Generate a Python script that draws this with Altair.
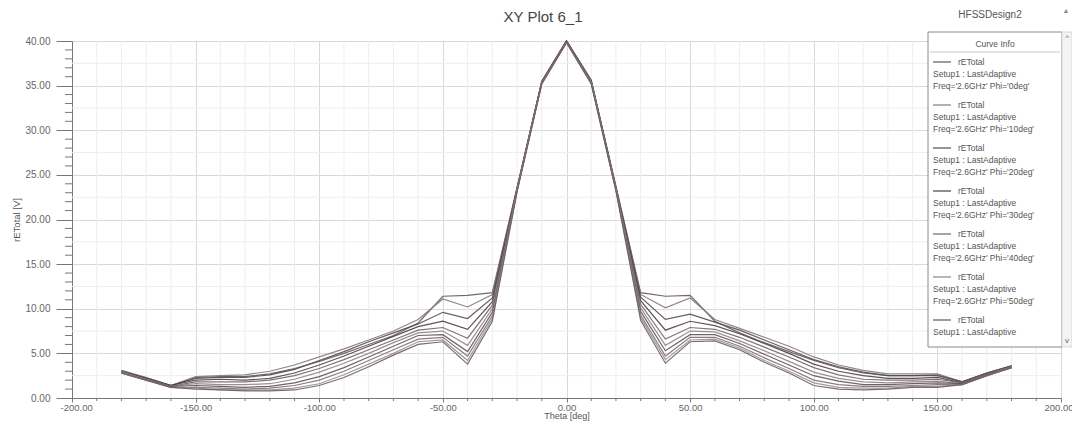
import altair as alt
import pandas as pd

# ---------------- data ----------------
theta = list(range(-180, 181, 10))
phis = ["0deg", "10deg", "20deg", "30deg", "40deg", "50deg", "60deg", "70deg", "80deg", "90deg"]

r_phi0 = [3.1, 2.3, 1.4, 2.3, 2.4, 2.4, 2.7, 3.3, 4.1, 5.0, 6.0, 7.0, 8.4, 11.4, 11.5, 11.8, 23.6, 35.5,
          40.0,
          35.6, 23.7, 11.8, 11.4, 11.5, 8.6, 7.3, 6.2, 5.2, 4.2, 3.4, 2.8, 2.5, 2.5, 2.6, 1.8, 2.8, 3.6]
r_phi10 = [3.0, 2.3, 1.4, 2.4, 2.5, 2.6, 3.0, 3.7, 4.6, 5.5, 6.5, 7.5, 8.8, 11.1, 10.2, 11.6, 23.5, 35.5,
           40.0,
           35.6, 23.6, 11.6, 10.1, 11.2, 8.8, 7.8, 6.8, 5.8, 4.6, 3.7, 3.1, 2.7, 2.7, 2.7, 1.8, 2.8, 3.6]
r_phi20 = [3.0, 2.2, 1.4, 2.2, 2.3, 2.3, 2.6, 3.2, 4.2, 5.2, 6.3, 7.3, 8.3, 9.6, 8.9, 11.2, 23.5, 35.4,
           40.0,
           35.5, 23.6, 11.3, 8.8, 9.4, 8.5, 7.6, 6.5, 5.4, 4.3, 3.5, 2.9, 2.5, 2.5, 2.5, 1.8, 2.8, 3.6]
r_phi30 = [2.9, 2.2, 1.4, 2.0, 2.1, 2.0, 2.2, 2.8, 3.7, 4.7, 5.8, 6.9, 8.0, 8.6, 7.7, 10.8, 23.4, 35.4,
           40.0,
           35.5, 23.5, 10.9, 7.6, 8.6, 8.1, 7.2, 6.1, 5.0, 3.8, 3.0, 2.5, 2.2, 2.2, 2.3, 1.7, 2.7, 3.5]
r_phi40 = [2.9, 2.1, 1.3, 1.8, 1.8, 1.8, 2.0, 2.5, 3.3, 4.3, 5.4, 6.5, 7.6, 7.9, 6.7, 10.4, 23.4, 35.4,
           39.9,
           35.4, 23.5, 10.5, 6.6, 7.9, 7.7, 6.8, 5.7, 4.6, 3.4, 2.6, 2.1, 2.0, 2.0, 2.1, 1.7, 2.7, 3.5]
r_phi50 = [2.9, 2.1, 1.3, 1.6, 1.5, 1.5, 1.6, 2.1, 2.9, 3.9, 5.0, 6.2, 7.3, 7.5, 5.9, 10.0, 23.3, 35.3,
           39.9,
           35.4, 23.4, 10.1, 5.9, 7.5, 7.4, 6.4, 5.3, 4.1, 2.9, 2.2, 1.8, 1.7, 1.8, 1.9, 1.6, 2.6, 3.5]
r_phi60 = [2.8, 2.0, 1.3, 1.4, 1.3, 1.2, 1.3, 1.7, 2.4, 3.4, 4.6, 5.8, 7.0, 7.1, 5.2, 9.6, 23.3, 35.3,
           39.9,
           35.4, 23.4, 9.7, 5.3, 7.1, 7.1, 6.1, 4.9, 3.7, 2.5, 1.9, 1.5, 1.5, 1.6, 1.7, 1.6, 2.6, 3.4]
r_phi70 = [2.8, 2.0, 1.2, 1.2, 1.1, 1.0, 1.1, 1.4, 2.0, 3.0, 4.2, 5.4, 6.6, 6.8, 4.7, 9.2, 23.2, 35.3,
           39.9,
           35.3, 23.3, 9.3, 4.7, 6.8, 6.8, 5.8, 4.5, 3.3, 2.0, 1.5, 1.3, 1.3, 1.4, 1.5, 1.5, 2.5, 3.4]
r_phi80 = [2.8, 2.0, 1.2, 1.1, 0.9, 0.9, 0.9, 1.1, 1.6, 2.6, 3.8, 5.0, 6.3, 6.5, 4.2, 8.9, 23.2, 35.2,
           39.8,
           35.3, 23.3, 9.0, 4.3, 6.5, 6.6, 5.6, 4.2, 3.0, 1.7, 1.2, 1.1, 1.1, 1.3, 1.3, 1.5, 2.5, 3.4]
r_phi90 = [2.8, 2.0, 1.2, 1.0, 0.9, 0.8, 0.8, 0.9, 1.4, 2.3, 3.5, 4.8, 6.0, 6.3, 3.8, 8.6, 23.1, 35.2,
           39.8,
           35.2, 23.2, 8.7, 3.9, 6.3, 6.4, 5.4, 4.0, 2.8, 1.4, 1.0, 0.9, 1.0, 1.2, 1.2, 1.5, 2.5, 3.4]

curves = [r_phi0, r_phi10, r_phi20, r_phi30, r_phi40, r_phi50, r_phi60, r_phi70, r_phi80, r_phi90]
curve_colors = ["#65565f", "#85777f", "#574a52", "#4a3f46", "#73646c",
                "#908289", "#5f5259", "#7d6f77", "#9a8e94", "#6a5c64"]

x_major = [-200, -150, -100, -50, 0, 50, 100, 150, 200]
x_minor = [v for v in range(-200, 201, 10) if v % 50 != 0]
y_major = [0, 5, 10, 15, 20, 25, 30, 35, 40]
y_minor = [v for v in range(0, 41) if v % 5 != 0]
y_minor_grid = [2.5, 7.5, 12.5, 17.5, 22.5, 27.5, 32.5, 37.5]

legend_phis = ["0deg", "10deg", "20deg", "30deg", "40deg", "50deg"]
partial_phi = "60deg"
title_text = "XY Plot 6_1"
design_text = "HFSSDesign2"
x_title = "Theta [deg]"
y_title = "rETotal [V]"

rows = []
for p, vals in zip(phis, curves):
    for t, v in zip(theta, vals):
        rows.append({"theta": t, "phi": p, "rE": v})
df = pd.DataFrame(rows)

W, H = 989, 357
FONT = "Liberation Sans"
TXT = "#555555"

color_scale = alt.Scale(domain=phis, range=curve_colors)
xs = alt.Scale(domain=[-200, 200], nice=False, zero=False)
ys = alt.Scale(domain=[0, 40], nice=False, zero=False)

label_expr = "replace(format(datum.value, '.2f'), '\u2212', '-')"

# minor grid
gx = alt.Chart(pd.DataFrame({"v": x_minor})).mark_rule(color="#eeeeee", strokeWidth=1).encode(
    x=alt.X("v:Q", scale=xs))
gy = alt.Chart(pd.DataFrame({"v": y_minor_grid})).mark_rule(color="#eeeeee", strokeWidth=1).encode(
    y=alt.Y("v:Q", scale=ys))

lines = alt.Chart(df).mark_line(strokeWidth=1.2, opacity=0.9).encode(
    x=alt.X("theta:Q", scale=xs,
            axis=alt.Axis(values=x_major, labelExpr=label_expr, title=x_title,
                          tickSize=4, labelPadding=0, titlePadding=0, grid=True,
                          labelFlush=True, labelFlushOffset=12,
                          gridColor="#d9d9d9", domainColor="#777777", tickColor="#777777",
                          labelColor="#666666", labelFontSize=9.5, titleFontSize=9,
                          titleFontWeight="normal", titleColor="#555555",
                          labelFont=FONT, titleFont=FONT)),
    y=alt.Y("rE:Q", scale=ys,
            axis=alt.Axis(values=y_major, labelExpr=label_expr, title=y_title,
                          tickSize=16, labelPadding=6, titlePadding=3, grid=True,
                          gridColor="#d9d9d9", domainColor="#777777", tickColor="#777777",
                          labelColor="#666666", labelFontSize=10, titleFontSize=9.5,
                          titleFontWeight="normal", titleColor="#555555",
                          labelFont=FONT, titleFont=FONT)),
    color=alt.Color("phi:N", scale=color_scale, legend=None),
    detail="phi:N",
)

# minor ticks
tx = alt.Chart(pd.DataFrame({"v": x_minor})).mark_rule(color="#777777").encode(
    x=alt.X("v:Q", scale=xs), y=alt.value(H), y2=alt.value(H + 3))
ty = alt.Chart(pd.DataFrame({"v": y_minor})).mark_rule(color="#777777").encode(
    y=alt.Y("v:Q", scale=ys), x=alt.value(-7), x2=alt.value(0))

# titles
title = alt.Chart(pd.DataFrame({"t": [title_text]})).mark_text(
    font=FONT, fontSize=15, color="#444444", align="center", baseline="middle").encode(
    text="t:N", x=alt.value(471), y=alt.value(-24))
design = alt.Chart(pd.DataFrame({"t": [design_text]})).mark_text(
    font=FONT, fontSize=10, color="#555555", align="center", baseline="middle").encode(
    text="t:N", x=alt.value(918), y=alt.value(-26))
icon = alt.Chart(pd.DataFrame({"t": ["\u25b2"]})).mark_text(
    font=FONT, fontSize=7, color="#888888", align="center", baseline="middle").encode(
    text="t:N", x=alt.value(994), y=alt.value(-30))

# legend box
box = alt.Chart(pd.DataFrame({"a": [0]})).mark_rect(fill="white", stroke="#8a8a8a", strokeWidth=1).encode(
    x=alt.value(856), x2=alt.value(990), y=alt.value(-9), y2=alt.value(306))
scroll = alt.Chart(pd.DataFrame({"a": [0]})).mark_rect(fill="#f3f3f3", stroke="#d0d0d0", strokeWidth=0.8).encode(
    x=alt.value(990), x2=alt.value(1000), y=alt.value(-9), y2=alt.value(306))
arrows = alt.Chart(pd.DataFrame({"t": ["^", "v"], "k": [0, 1]})).transform_calculate(
    py="datum.k == 0 ? -3 : 300").mark_text(
    font=FONT, fontSize=8, color="#666666", align="center", baseline="middle").encode(
    text="t:N", x=alt.value(995), y=alt.Y("py:Q", scale=None))
head = alt.Chart(pd.DataFrame({"t": ["Curve Info"]})).mark_text(
    font=FONT, fontSize=8.5, color=TXT, align="center", baseline="middle").encode(
    text="t:N", x=alt.value(923), y=alt.value(3))
head_line = alt.Chart(pd.DataFrame({"a": [0]})).mark_rule(color="#c8c8c8").encode(
    x=alt.value(858), x2=alt.value(988), y=alt.value(11))

leg = pd.DataFrame({"i": list(range(len(legend_phis))) + [len(legend_phis)],
                    "phi": legend_phis + [partial_phi]})
leg["name"] = "rETotal"
leg["setup"] = "Setup1 : LastAdaptive"
leg["freq"] = ["Freq='2.6GHz' Phi='" + p + "'" for p in leg["phi"]]
leg["full"] = [1] * len(legend_phis) + [0]

base = alt.Chart(leg).transform_calculate(
    y1="21 + 43 * datum.i", y2="33 + 43 * datum.i", y3="45 + 43 * datum.i")

samples = base.mark_rule(strokeWidth=1.2).encode(
    x=alt.value(861), x2=alt.value(879), y=alt.Y("y1:Q", scale=None),
    color=alt.Color("phi:N", scale=color_scale, legend=None))
names = base.mark_text(font=FONT, fontSize=8.5, color=TXT, align="left", baseline="middle").encode(
    text="name:N", x=alt.value(886), y=alt.Y("y1:Q", scale=None))
setups = base.mark_text(font=FONT, fontSize=8.5, color=TXT, align="left", baseline="middle").encode(
    text="setup:N", x=alt.value(861), y=alt.Y("y2:Q", scale=None))
freqs = base.transform_filter("datum.full == 1").mark_text(
    font=FONT, fontSize=8.5, color=TXT, align="left", baseline="middle").encode(
    text="freq:N", x=alt.value(861), y=alt.Y("y3:Q", scale=None))

chart = alt.layer(
    gx, gy, lines, tx, ty, title, design, icon,
    box, scroll, arrows, head, head_line, samples, names, setups, freqs
).properties(
    width=W, height=H,
    padding={"left": 64, "top": 33, "right": 11, "bottom": 25},
    autosize=alt.AutoSizeParams(type="none"),
).configure_view(stroke="#8a8a8a", strokeWidth=1).configure(background="white")

chart.save("out.html", embed_options={"renderer": "svg", "actions": False})
